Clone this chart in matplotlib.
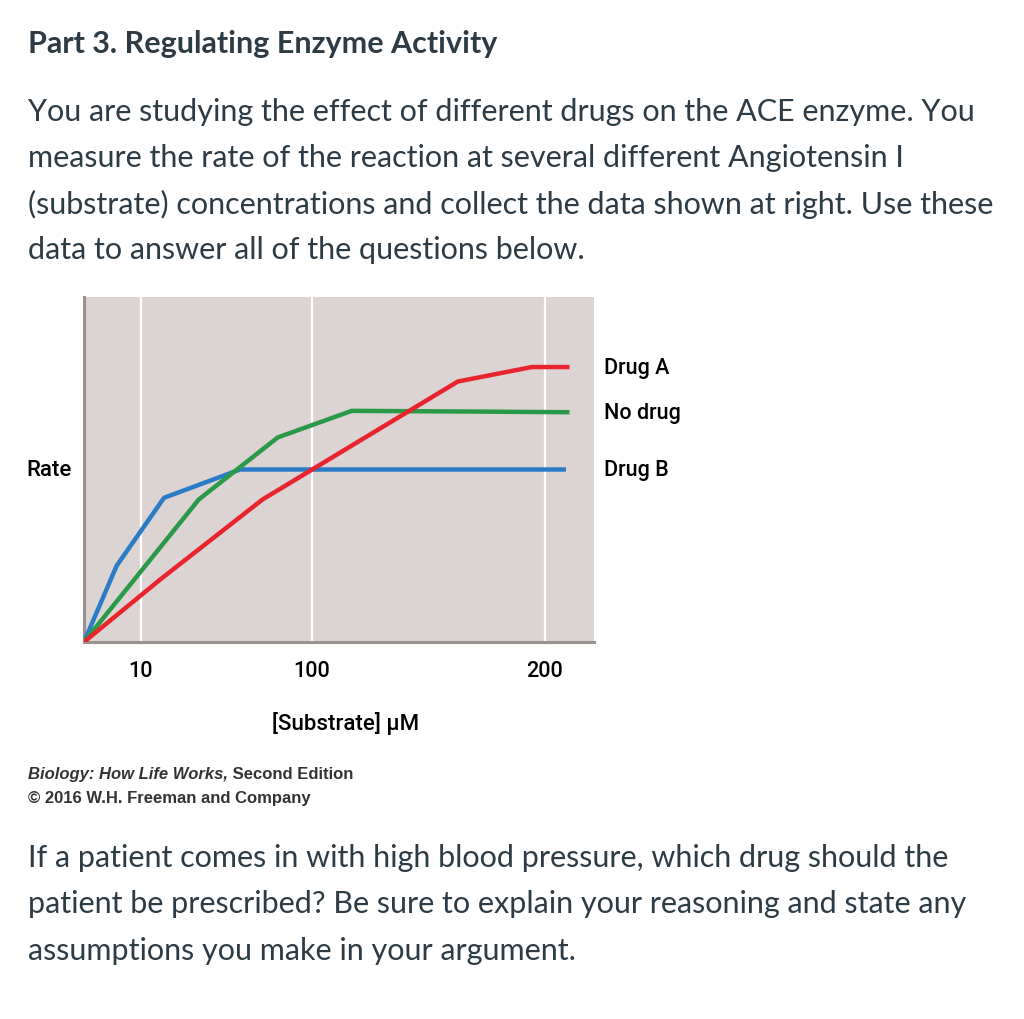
import matplotlib
matplotlib.use("Agg")
from matplotlib import pyplot as plt

# ---- DATA ----
# x is position along the schematic substrate axis (0-100, axis is not to scale)
tick_pos = [11.1, 44.7, 90.3]
tick_labels = ["10", "100", "200"]

drug_b_x = [0, 6.4, 15.7, 30.6, 94.5]
drug_b_y = [0, 22.1, 41.8, 50.0, 50.0]

no_drug_x = [0, 22.5, 38.0, 52.5, 75.7, 95.2]
no_drug_y = [0, 41.3, 59.3, 67.0, 66.8, 66.6]

drug_a_x = [0, 15.1, 35.0, 73.3, 87.8, 95.2]
drug_a_y = [0, 18.3, 41.3, 75.5, 79.7, 79.7]

series_names = ["Drug A", "No drug", "Drug B"]

# ---- STYLE ----
text_col = "#2d3b45"
body_font = ["Lato", "DejaVu Sans"]
narrow_font = ["Liberation Sans Narrow", "Roboto", "DejaVu Sans"]
cite_font = ["Liberation Sans", "DejaVu Sans"]

fig = plt.figure(figsize=(10.24, 10.2), dpi=100)

# header and body text
fig.text(28 / 1024, 1 - 44 / 1020, "Part 3. Regulating Enzyme Activity", family=body_font,
         fontweight="bold", fontsize=22, color=text_col, va="center")
intro = ["You are studying the effect of different drugs on the ACE enzyme. You",
         "measure the rate of the reaction at several different Angiotensin I",
         "(substrate) concentrations and collect the data shown at right. Use these",
         "data to answer all of the questions below."]
for i, line in enumerate(intro):
    fig.text(28 / 1024, 1 - (112 + 46 * i) / 1020, line, family=body_font,
             fontsize=22, color=text_col, va="center")

question = ["If a patient comes in with high blood pressure, which drug should the",
            "patient be prescribed? Be sure to explain your reasoning and state any",
            "assumptions you make in your argument."]
for i, line in enumerate(question):
    fig.text(28 / 1024, 1 - (858 + 46.5 * i) / 1020, line, family=body_font,
             fontsize=22, color=text_col, va="center")

# citation (italic book title, then plain edition text right after it)
t1 = fig.text(28 / 1024, 1 - 775 / 1020, "Biology: How Life Works,", family=cite_font,
              fontsize=12, fontweight="bold", style="italic", color="#333333", va="center")
fig.add_artist(plt.Annotation(" Second Edition", xy=(1, 0.5), xycoords=t1, va="center", ha="left",
                              family=cite_font, fontsize=12, fontweight="bold", color="#333333"))
fig.text(28 / 1024, 1 - 799 / 1020, "\u00a9 2016 W.H. Freeman and Company", family=cite_font,
         fontsize=12, fontweight="bold", color="#333333", va="center")

# ---- CHART ----
ax = fig.add_axes([84 / 1024, 1 - 643 / 1020, 510 / 1024, 345 / 1020])
ax.set_facecolor("#dbd4d2")
ax.set_xlim(0, 100)
ax.set_ylim(0, 100)

for p in tick_pos:
    ax.axvline(p, color="white", lw=1.6, zorder=1)

ax.plot(drug_b_x, drug_b_y, color="#2b7bc6", lw=3.2, zorder=3, solid_capstyle="butt")
ax.plot(no_drug_x, no_drug_y, color="#2a9a48", lw=3.2, zorder=3, solid_capstyle="butt")
ax.plot(drug_a_x, drug_a_y, color="#e8242c", lw=3.2, zorder=3, solid_capstyle="butt")

ax.set_xticks(tick_pos)
ax.set_xticklabels(tick_labels, family=narrow_font, fontsize=15.5, fontweight="medium")
ax.set_yticks([])
ax.tick_params(axis="x", length=0, pad=13)
for s in ["top", "right"]:
    ax.spines[s].set_visible(False)
for s in ["left", "bottom"]:
    ax.spines[s].set_color("#9b9190")
    ax.spines[s].set_linewidth(2.2)

ax.set_xlabel("[Substrate] \u00b5M", family=narrow_font, fontsize=16, fontweight="medium", labelpad=18)
ax.xaxis.set_label_coords(0.5 + 7 / 510, -0.2)
ax.set_ylabel("Rate", family=narrow_font, fontsize=16, fontweight="medium", rotation=0,
              ha="right", va="center", labelpad=9)

# series labels at the line ends
for name, y in zip(series_names, [drug_a_y[-1], no_drug_y[-1], drug_b_y[-1]]):
    ax.annotate(name, xy=(100, y), xytext=(7, 0), textcoords="offset points",
                family=narrow_font, fontsize=15.5, fontweight="medium", va="center", ha="left",
                annotation_clip=False)

fig.savefig("out.png", dpi=100, facecolor="white")
